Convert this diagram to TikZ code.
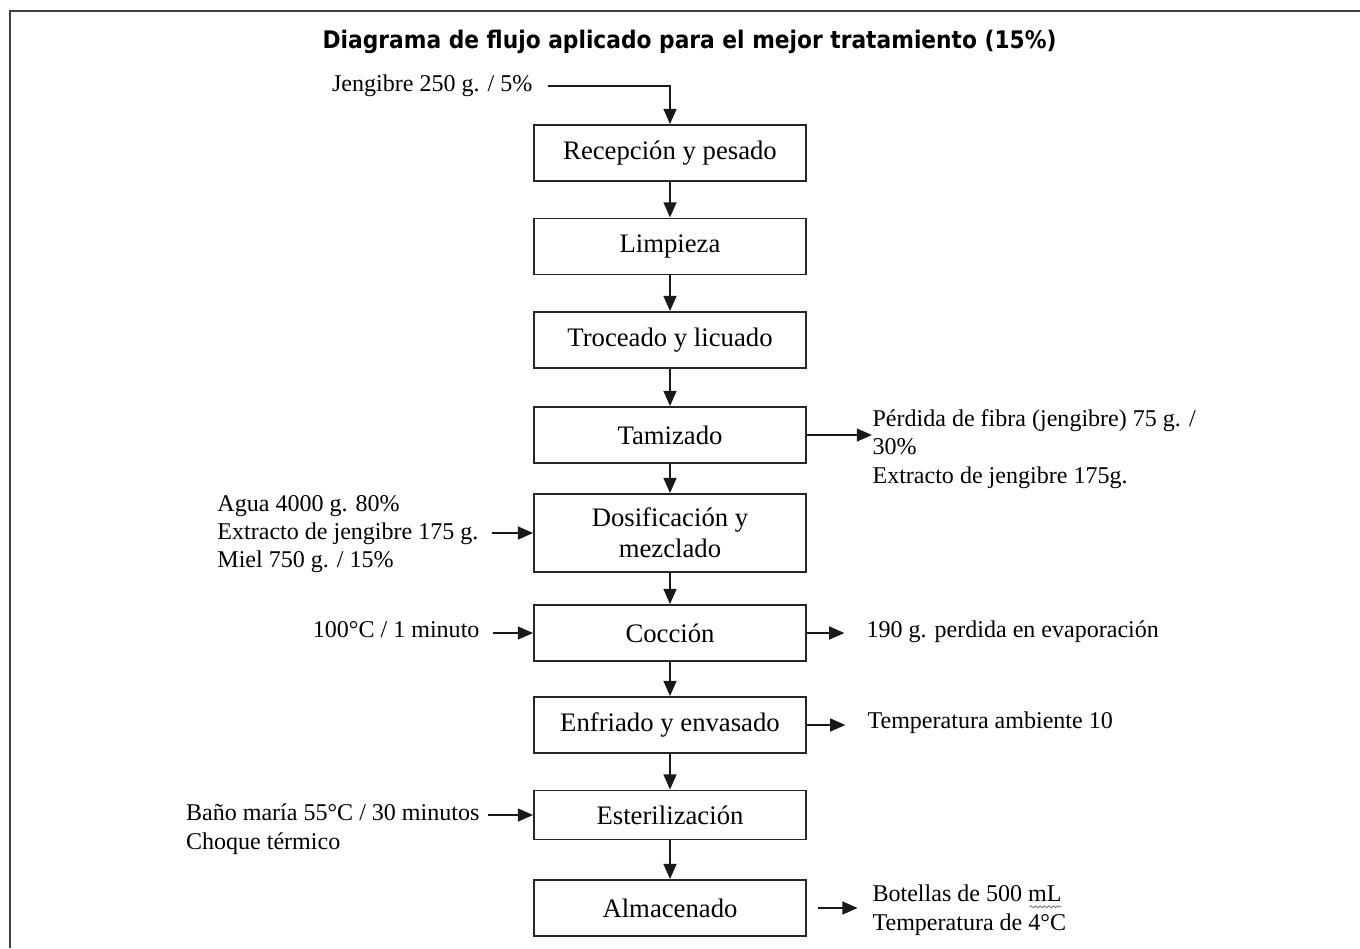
\documentclass[tikz,border=0pt]{standalone}
\usepackage{fontspec}
\setmainfont{Liberation Serif}
\newfontfamily\titlefont[FakeStretch=0.9]{DejaVu Sans}
\usetikzlibrary{positioning, arrows.meta, decorations.pathmorphing}

\begin{document}
\begin{tikzpicture}[
  proceso/.style={
    draw=black!85, line width=0.65pt,
    minimum width=3.4cm, minimum height=0.7cm,
    inner sep=0pt, align=center,
    font=\fontsize{9.5}{11}\selectfont
  },
  dato/.style={inner sep=0pt, align=left, font=\fontsize{8.55}{10.1}\selectfont},
  titulo/.style={font=\titlefont\bfseries\fontsize{8.6}{10}\selectfont},
  flecha/.style={-{Triangle[length=1.9mm, width=1.6mm]}, line width=0.7pt, black!90},
  marco/.style={line width=0.7pt, black!75}
]
  \useasboundingbox (0,0) rectangle (17,-11.85);
  \draw[marco] (0.125,-11.85) |- (17,-0.14);

  \node[titulo] (tit) at (8.62,-0.53) {Diagrama de flujo aplicado para el mejor tratamiento (15\%)};

  % etapas del proceso
  \node[proceso] (recep) at (8.375,-1.9125) {Recepción y pesado};
  \node[proceso] (limp) at (8.375,-3.08) {Limpieza};
  \node[proceso] (troc) at (8.375,-4.25) {Troceado y licuado};
  \node[proceso] (tamiz) at (8.375,-5.4375) {Tamizado};
  \node[proceso, minimum height=0.975cm] (dosif) at (8.375,-6.6625) {Dosificación y\\ mezclado};
  \node[proceso] (cocc) at (8.375,-7.9125) {Cocción};
  \node[proceso] (enfr) at (8.375,-9.0625) {Enfriado y envasado};
  \node[proceso, minimum height=0.6125cm] (ester) at (8.375,-10.1875) {Esterilización};
  \node[proceso] (alm) at (8.375,-11.35) {Almacenado};

  \draw[flecha] (recep.south) -- (limp.north);
  \draw[flecha] (limp.south) -- (troc.north);
  \draw[flecha] (troc.south) -- (tamiz.north);
  \draw[flecha] (tamiz.south) -- (dosif.north);
  \draw[flecha] (dosif.south) -- (cocc.north);
  \draw[flecha] (cocc.south) -- (enfr.north);
  \draw[flecha] (enfr.south) -- (ester.north);
  \draw[flecha] (ester.south) -- (alm.north);

  % entradas
  \node[dato, anchor=east] (jeng) at (6.6625,-1.07) {Jengibre 250 g. / 5\%};
  \node[dato, anchor=east] (agua) at (5.9875,-6.675) {Agua 4000 g. 80\%\\ Extracto de jengibre 175 g.\\ Miel 750 g. / 15\%};
  \node[dato, anchor=east] (temp) at (6.0,-7.875) {100°C / 1 minuto};
  \node[dato, anchor=east] (bano) at (6.0,-10.3625) {Baño maría 55°C / 30 minutos\\ Choque térmico};

  \draw[flecha, shorten <=0.19cm] (jeng.east) -| (recep.north);
  \draw[flecha, shorten <=0.16cm] (dosif.west -| agua.east) -- (dosif.west);
  \draw[flecha, shorten <=0.16cm] (cocc.west -| temp.east) -- (cocc.west);
  \draw[flecha, shorten <=0.1cm] (ester.west -| bano.east) -- (ester.west);

  % salidas
  \node[dato, anchor=west] (perdida) at (10.9,-5.61) {Pérdida de fibra (jengibre) 75 g. /\\ 30\%\\ Extracto de jengibre 175g.};
  \node[dato, anchor=west] (evap) at (10.825,-7.9) {190 g. perdida en evaporación};
  \node[dato, anchor=west] (amb) at (10.8375,-9.03) {Temperatura ambiente 10};
  \node[dato, anchor=west] (bot) at (10.9,-11.375) {Botellas de 500 mL\\ Temperatura de 4°C};

  \draw[flecha] (tamiz.east) -- (tamiz.east -| perdida.west);
  \draw[flecha, shorten >=0.27cm] (cocc.east) -- (cocc.east -| evap.west);
  \draw[flecha, shorten >=0.27cm] (enfr.east) -- (enfr.east -| amb.west);
  \draw[flecha, shorten <=0.14cm, shorten >=0.18cm] (alm.east) -- (alm.east -| bot.west);

  \draw[black!55, line width=0.3pt, decorate, decoration={snake, amplitude=0.35pt, segment length=1.6pt}] (12.87,-11.335) -- (13.27,-11.335);
\end{tikzpicture}
\end{document}
